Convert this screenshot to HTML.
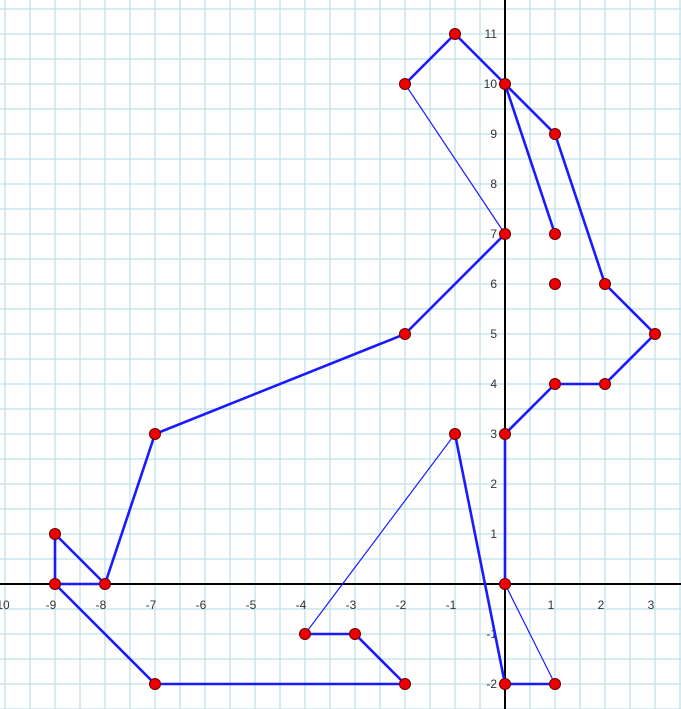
<!DOCTYPE html>
<html><head><meta charset="utf-8"><style>
html,body{margin:0;padding:0;background:#fff;}
svg{display:block;font-family:"Liberation Sans",sans-serif;}
</style></head><body>
<svg id="chart" width="681" height="709" viewBox="0 0 681 709"></svg>
<script>
const ox=505, oy=584, unit=50;
const xTicks=[-10,-9,-8,-7,-6,-5,-4,-3,-2,-1,1,2,3];
const yTicks=[-2,-1,1,2,3,4,5,6,7,8,9,10,11];
const thickSegs=[[-1,11,-2,10],[-1,11,0,10],[0,10,1,9],[0,10,1,7],[1,9,2,6],[2,6,3,5],[3,5,2,4],[2,4,1,4],[1,4,0,3],[0,3,0,0],[0,-2,1,-2],[-1,3,0,-2],[0,7,-2,5],[-2,5,-7,3],[-7,3,-8,0],[-8,0,-9,1],[-9,1,-9,0],[-9,0,-8,0],[-9,0,-7,-2],[-7,-2,-2,-2],[-2,-2,-3,-1],[-3,-1,-4,-1]];
const thinSegs=[[-2,10,0,7],[-4,-1,-1,3],[0,0,1,-2]];
const pointsX=[-1,-2,0,1,1,1,2,3,2,1,0,0,-1,0,1,0,-2,-7,-8,-9,-9,-7,-2,-3,-4];
const pointsY=[11,10,10,9,7,6,6,5,4,4,3,0,3,-2,-2,7,5,3,0,1,0,-2,-2,-1,-1];
const sx=v=>ox+v*unit, sy=v=>oy-v*unit;
const svg=document.getElementById('chart');
const NS='http://www.w3.org/2000/svg';
function mk(t,a){const e=document.createElementNS(NS,t);for(const k in a)e.setAttribute(k,a[k]);svg.appendChild(e);return e;}
for(let x=ox%25;x<=681;x+=25){const l=mk('line',{x1:x,y1:0,x2:x,y2:709,stroke:'#bfe0ea','stroke-width':1.3});

}
for(let y=oy%25;y<=709;y+=25){const l=mk('line',{x1:0,y1:y,x2:681,y2:y,stroke:'#bfe0ea','stroke-width':1.3});

}
let a=mk('line',{x1:0,y1:oy,x2:681,y2:oy,stroke:'#000','stroke-width':2});


a=mk('line',{x1:ox,y1:0,x2:ox,y2:709,stroke:'#000','stroke-width':2});


xTicks.forEach(v=>{const t=mk('text',{x:sx(v)-4,y:oy+25,'text-anchor':'middle','font-size':12,fill:'#333'});t.textContent=v;

});
yTicks.forEach(v=>{const t=mk('text',{x:ox-8,y:sy(v)+4,'text-anchor':'end','font-size':12,fill:'#333'});t.textContent=v;

});
thinSegs.forEach(s=>{const l=mk('line',{x1:sx(s[0]),y1:sy(s[1]),x2:sx(s[2]),y2:sy(s[3]),stroke:'#1a1aff','stroke-width':1.2});

});
thickSegs.forEach(s=>{const l=mk('line',{x1:sx(s[0]),y1:sy(s[1]),x2:sx(s[2]),y2:sy(s[3]),stroke:'#1a1aff','stroke-width':2.6,'stroke-linecap':'round'});

});
pointsX.forEach((v,i)=>{const c=mk('circle',{cx:sx(v),cy:sy(pointsY[i]),r:5.5,fill:'#ee0000',stroke:'#600','stroke-width':1});

});
</script>
</body></html>
